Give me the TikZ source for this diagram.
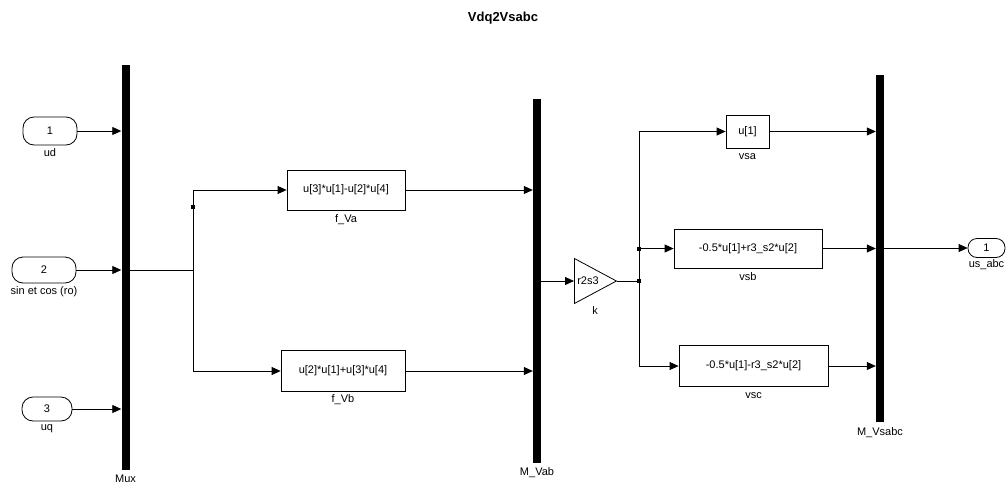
\documentclass[tikz,border=0pt]{standalone}
\usepackage{fontspec}
\setmainfont{Liberation Sans}
\usetikzlibrary{positioning,arrows.meta,shapes.geometric}

\begin{document}
\begin{tikzpicture}[x=1pt, y=-1pt,
  font=\fontsize{11}{12}\selectfont,
  port/.style={draw, line width=0.8pt, rounded corners=11pt, inner sep=1pt},
  fcn/.style={draw, line width=0.8pt, inner sep=2pt},
  bar/.style={fill=black, inner sep=0pt, minimum width=8pt},
  lbl/.style={inner sep=1pt, label distance=3pt, font=\fontsize{11}{12}\selectfont},
  dot/.style={fill=black, inner sep=0pt, minimum size=4pt},
  arr/.style={-{Triangle[length=9pt,width=8pt]}, line width=0.8pt},
  wire/.style={line width=0.8pt},
]
\useasboundingbox (0,0) rectangle (1006,490);

% --- Title ---
\node[font=\fontsize{13}{14}\selectfont\bfseries] (title) at (503,18) {Vdq2Vsabc};

% --- Inports and Mux ---
\node[port, minimum width=54pt, minimum height=28pt, label={[lbl, label distance=2pt]below:ud}] (in1) at (50,131) {1};
\node[port, minimum width=64pt, minimum height=26pt, label={[lbl, label distance=2pt]below:sin et cos (ro)}] (in2) at (44,270) {2};
\node[port, minimum width=50pt, minimum height=24pt, label={[lbl, label distance=2pt]below:uq}] (in3) at (47,409) {3};
\node[bar, minimum height=405pt, label={[lbl, label distance=4pt]below:Mux}] (mux) at (125.5,267.5) {};

% --- dq to alpha/beta ---
\node[fcn, minimum width=118pt, minimum height=40pt, label={[lbl]below:f\_Va}] (fva) at (346,190) {u[3]*u[1]-u[2]*u[4]};
\node[fcn, minimum width=124pt, minimum height=41pt, label={[lbl, label distance=1pt]below:f\_Vb}] (fvb) at (343,371) {u[2]*u[1]+u[3]*u[4]};
\node[bar, minimum height=364pt, label={[lbl, label distance=4pt]below:M\_Vab}] (mvab) at (537,280.5) {};

% --- Gain ---
\node[draw, line width=0.8pt, isosceles triangle, isosceles triangle stretches, shape border rotate=0,
      minimum width=45pt, minimum height=42pt, inner sep=0pt, anchor=west] (gain) at (574,281) {};
\node[lbl] (gaintxt) at (588,281) {r2s3};
\node[lbl] (gainlbl) at (595,311) {k};

% --- alpha/beta to abc ---
\node[fcn, minimum width=43pt, minimum height=33pt, label={[lbl, label distance=4pt]below:vsa}] (vsa) at (747.5,131.5) {u[1]};
\node[fcn, minimum width=148pt, minimum height=39pt, label={[lbl]below:vsb}] (vsb) at (748,248.5) {-0.5*u[1]+r3\_s2*u[2]};
\node[fcn, minimum width=149pt, minimum height=41pt, label={[lbl, label distance=4pt]below:vsc}] (vsc) at (753.5,366) {-0.5*u[1]-r3\_s2*u[2]};
\node[bar, minimum height=347pt, label={[lbl, label distance=4pt]below:M\_Vsabc}] (mvsabc) at (880,248.5) {};
\node[port, minimum width=37pt, minimum height=19pt, rounded corners=9pt, label={[lbl, label distance=0pt]below:us\_abc}] (out) at (986.5,248) {1};

% --- Junctions ---
\coordinate (s1) at (193,270);
\node[dot] (d1) at (193,207) {};
\node[dot] (d2) at (639,281) {};
\node[dot] (d3) at (639,248.5) {};

% --- Edges ---
\draw[arr] (in1.east) -- (in1 -| mux.west);
\draw[arr] (in2.east) -- (in2 -| mux.west);
\draw[arr] (in3.east) -- (in3 -| mux.west);
\draw[wire] (s1 -| mux.east) -- (s1);
\draw[arr] (s1) |- (fva.west);
\draw[arr] (s1) |- (fvb.west);
\draw[arr] (fva.east) -- (fva -| mvab.west);
\draw[arr] (fvb.east) -- (fvb -| mvab.west);

\draw[arr] (gain.west -| mvab.east) -- (gain.west);
\draw[wire] (gain.apex) -- (d2);
\draw[arr] (d2) |- (vsa.west);
\draw[arr] (d2) |- (vsc.west);
\draw[arr] (d3) -- (d3 -| vsb.west);

\draw[arr] (vsa.east) -- (vsa -| mvsabc.west);
\draw[arr] (vsb.east) -- (vsb -| mvsabc.west);
\draw[arr] (vsc.east) -- (vsc -| mvsabc.west);
\draw[arr] (out -| mvsabc.east) -- (out.west);

\end{tikzpicture}
\end{document}
